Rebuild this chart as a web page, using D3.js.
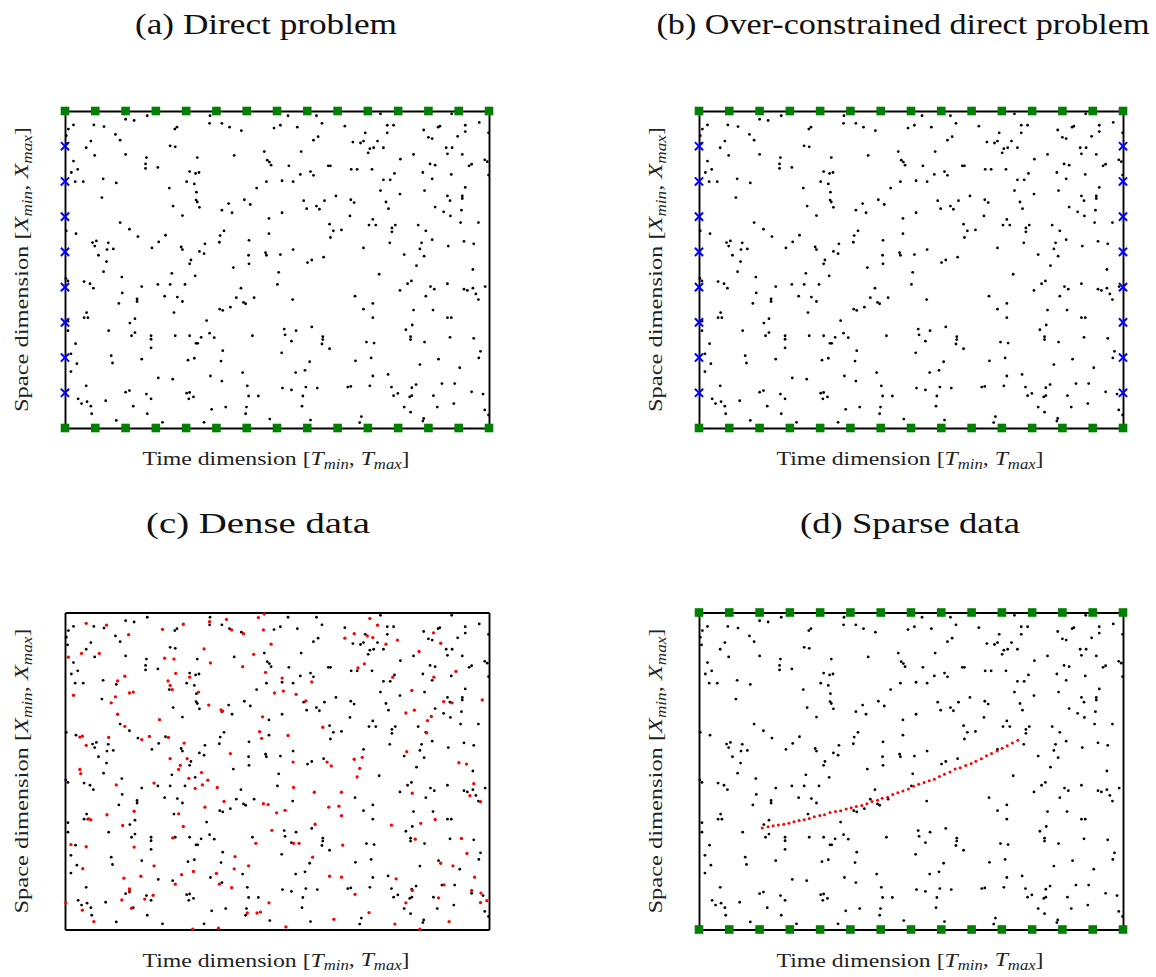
<!DOCTYPE html>
<html>
<head>
<meta charset="utf-8">
<script src="https://cdn.jsdelivr.net/npm/d3@7"></script>
<style>
  body { margin: 0; background: #fff; }
  svg { display: block; }
</style>
</head>
<body>
<svg id="fig" width="1156" height="977"></svg>
<script>
// Normalised domain: time [Tmin, Tmax] -> [0, 1], space [Xmin, Xmax] -> [0, 1]
const T_DOMAIN = [0, 1];
const X_DOMAIN = [0, 1];

// Boundary-condition points (top and bottom edges, x = Xmin / Xmax)
const boundaryTimes = [0, 0.0714, 0.1429, 0.2143, 0.2857, 0.3571, 0.4286, 0.5,
  0.5714, 0.6429, 0.7143, 0.7857, 0.8571, 0.9286, 1];
// Initial-condition points (t = Tmin) and final-condition points (t = Tmax)
const initialSpace = [0.1111, 0.2222, 0.3333, 0.4444, 0.5556, 0.6667, 0.7778, 0.8889];

// Collocation points [t, x], shared by all four layouts
const collocation = [
  [.194,.985],[.143,.974],[.163,.970],[.342,.985],[.020,.956],[.008,.943],[.068,.956],[.092,.951],[.003,.922],[.006,.898],
  [.119,.926],[.130,.908],[.061,.905],[.050,.884],[.264,.949],[.259,.943],[.341,.961],[.370,.961],[.388,.949],[.416,.938],
  [.493,.946],[.248,.890],[.260,.887],[.070,.860],[.143,.863],[.192,.853],[.190,.833],[.190,.819],[.219,.822],[.020,.842],
  [.030,.816],[.015,.806],[.312,.853],[.399,.860],[.470,.872],[.477,.845],[.482,.839],[.486,.829],[.294,.809],[.308,.803],
  [.316,.806],[.024,.777],[.043,.777],[.090,.786],[.121,.773],[.287,.777],[.305,.770],[.246,.757],[.310,.744],[.452,.757],
  [.475,.777],[.087,.727],[.309,.719],[.312,.713],[.317,.696],[.423,.720],[.437,.705],[.386,.708],[.370,.687],[.394,.679],
  [.255,.700],[.277,.670],[.481,.661],[.130,.648],[.152,.627],[.003,.622],[.026,.613],[.172,.604],[.237,.608],[.221,.587],
  [.375,.622],[.366,.607],[.364,.586],[.481,.613],[.434,.592],[.065,.585],[.074,.590],[.070,.574],[.102,.584],[.099,.563],
  [.114,.565],[.079,.545],[.205,.568],[.274,.571],[.277,.563],[.317,.557],[.328,.550],[.330,.581],[.473,.553],[.475,.545],
  [.433,.545],[.098,.525],[.297,.530],[.294,.518],[.397,.506],[.434,.518],
  [.526,.985],[.593,.985],[.744,.991],[.912,.991],[.508,.955],[.548,.949],[.606,.961],[.660,.952],[.760,.955],[.775,.955],
  [.760,.931],[.708,.931],[.846,.940],[.880,.949],[.884,.952],[.944,.955],[.944,.935],[.977,.964],[.586,.908],[.597,.919],
  [.679,.902],[.697,.899],[.704,.905],[.737,.905],[.857,.917],[.866,.913],[.926,.920],[.557,.872],[.719,.881],[.728,.884],
  [.715,.868],[.751,.884],[.899,.884],[.913,.884],[.902,.865],[.937,.863],[.822,.863],[.791,.848],[.990,.846],[.996,.840],
  [.528,.827],[.621,.827],[.626,.827],[.675,.816],[.689,.816],[.724,.816],[.861,.833],[.873,.829],[.953,.827],[.959,.832],
  [.579,.809],[.586,.797],[.555,.800],[.844,.806],[.866,.786],[.911,.800],[.777,.803],[.512,.780],[.538,.777],[.751,.783],
  [.767,.783],[.944,.759],[.744,.749],[.848,.749],[.639,.732],[.790,.738],[.902,.732],[.937,.732],[.937,.724],[.908,.717],
  [.563,.717],[.612,.717],[.674,.720],[.682,.711],[.757,.713],[.593,.700],[.600,.690],[.570,.692],[.763,.692],[.873,.697],
  [.893,.682],[.909,.669],[.935,.687],[.512,.679],[.672,.669],[.726,.658],[.624,.643],[.633,.622],[.652,.625],[.626,.601],
  [.717,.640],[.733,.640],[.771,.631],[.779,.640],[.771,.619],[.833,.640],[.851,.622],[.933,.648],[.975,.648],[.866,.594],
  [.766,.584],[.841,.584],[.837,.565],[.847,.542],[.941,.589],[.964,.581],[.904,.574],[.704,.568],[.508,.547],[.538,.563],
  [.572,.522],[.582,.530],[.610,.539],[.800,.547],[.829,.512],[.962,.500],[.999,.931],[.999,.798],
  [.002,.472],[.007,.464],[.045,.462],[.059,.455],[.067,.441],[.091,.493],[.134,.476],[.135,.426],[.127,.393],[.181,.446],
  [.170,.407],[.170,.399],[.219,.453],[.248,.453],[.283,.453],[.252,.488],[.307,.480],[.235,.416],[.265,.413],[.277,.399],
  [.415,.441],[.404,.411],[.421,.396],[.426,.392],[.446,.411],[.390,.381],[.365,.375],[.372,.371],[.051,.364],[.045,.348],
  [.054,.348],[.257,.364],[.007,.337],[.007,.307],[.165,.345],[.153,.331],[.334,.339],[.103,.307],[.165,.301],[.157,.291],
  [.203,.291],[.203,.280],[.203,.253],[.260,.291],[.294,.291],[.321,.286],[.341,.299],[.352,.285],[.442,.291],[.309,.267],
  [.313,.267],[.025,.266],[.014,.234],[.028,.203],[.014,.178],[.109,.228],[.112,.205],[.181,.217],[.290,.214],[.305,.220],
  [.372,.244],[.368,.211],[.419,.175],[.220,.158],[.254,.154],[.343,.164],[.370,.148],[.050,.133],[.430,.133],[.143,.113],
  [.152,.118],[.192,.107],[.203,.092],[.287,.110],[.294,.112],[.292,.092],[.303,.098],[.433,.101],[.456,.101],[.031,.092],
  [.039,.077],[.052,.083],[.061,.069],[.063,.045],[.096,.086],[.161,.069],[.194,.045],[.346,.059],[.379,.066],[.428,.066],
  [.426,.045],[.121,.024],[.230,.018],[.328,.018],[.483,.028],
  [.504,.491],[.501,.453],[.741,.485],[.808,.455],[.817,.464],[.790,.434],[.862,.446],[.871,.438],[.902,.455],[.941,.438],
  [.949,.434],[.962,.441],[.969,.423],[.975,.405],[.991,.446],[.537,.405],[.684,.416],[.851,.416],[.726,.393],[.704,.375],
  [.726,.348],[.822,.372],[.868,.372],[.902,.348],[.911,.348],[.517,.312],[.519,.294],[.545,.307],[.582,.319],[.534,.274],
  [.608,.288],[.608,.279],[.606,.265],[.624,.250],[.804,.310],[.819,.325],[.815,.288],[.815,.279],[.848,.271],[.908,.286],
  [.964,.283],[.711,.271],[.729,.268],[.511,.237],[.685,.212],[.722,.221],[.881,.217],[.980,.242],[.976,.221],[.577,.209],
  [.837,.200],[.931,.190],[.544,.175],[.566,.182],[.726,.164],[.762,.169],[.828,.137],[.889,.140],[.919,.140],[.513,.126],
  [.534,.120],[.568,.129],[.595,.126],[.667,.129],[.674,.131],[.719,.133],[.770,.129],[.818,.127],[.775,.102],[.785,.109],
  [.813,.098],[.818,.102],[.869,.102],[.959,.114],[.986,.107],[.561,.101],[.559,.069],[.800,.066],[.815,.050],[.878,.066],
  [.917,.077],[.990,.057],[.579,.025],[.699,.036],[.695,.017],[.846,.030],[.844,.022],[.999,.041]
];

// Observation points scattered over the whole domain (dense data) [t, x]
const denseObs = [
  [.050,.966],[.098,.960],[.230,.947],[.279,.963],[.341,.971],[.381,.978],[.456,.984],[.470,.995],[.150,.930],[.393,.945],
  [.421,.933],[.468,.945],[.008,.859],[.039,.871],[.081,.871],[.328,.885],[.235,.856],[.257,.853],[.343,.841],[.445,.868],
  [.486,.900],[.419,.829],[.473,.811],[.261,.808],[.294,.796],[.141,.799],[.124,.784],[.243,.784],[.248,.770],[.253,.757],
  [.152,.746],[.161,.749],[.119,.734],[.109,.715],[.020,.739],[.315,.749],[.494,.746],[.339,.708],[.368,.693],[.372,.689],
  [.124,.679],[.223,.662],[.466,.671],[.141,.641],[.035,.607],[.041,.610],[.050,.581],[.103,.606],[.181,.599],[.199,.609],
  [.244,.606],[.281,.588],[.459,.624],[.464,.603],[.390,.555],[.248,.539],[.288,.539],[.272,.518],[.268,.505],[.035,.505],
  [.719,.981],[.737,.960],[.682,.933],[.660,.919],[.713,.926],[.726,.921],[.784,.913],[.757,.900],[.869,.936],[.886,.903],
  [.835,.877],[.706,.838],[.691,.825],[.512,.793],[.582,.781],[.773,.796],[.870,.796],[.922,.814],[.515,.752],[.545,.742],
  [.568,.721],[.818,.754],[.893,.719],[.913,.715],[.984,.724],[.804,.683],[.824,.692],[.864,.672],[.855,.659],[.608,.638],
  [.853,.620],[.526,.612],[.806,.561],[.538,.528],[.618,.528],[.628,.516],[.682,.537],[.701,.543],[.695,.508],[.929,.526],
  [.947,.522],
  [.037,.492],[.121,.456],[.210,.462],[.292,.477],[.322,.495],[.337,.471],[.324,.456],[.307,.445],[.359,.448],[.375,.404],
  [.330,.386],[.468,.397],[.479,.394],[.163,.373],[.099,.362],[.056,.349],[.061,.346],[.268,.365],[.136,.328],[.279,.325],
  [.488,.313],[.014,.268],[.050,.261],[.163,.260],[.254,.289],[.450,.272],[.401,.230],[.210,.201],[.042,.192],[.399,.191],
  [.433,.201],[.179,.168],[.139,.162],[.275,.173],[.303,.183],[.357,.177],[.364,.143],[.260,.143],[.393,.132],[.152,.128],
  [.152,.122],[.208,.108],[.188,.096],[.134,.093],[.002,.084],[.041,.061],[.157,.067],[.430,.052],[.453,.052],[.461,.055],
  [.481,.084],[.068,.025],[.301,.001],[.362,.004],
  [.689,.481],[.539,.448],[.588,.433],[.652,.433],[.499,.368],[.519,.376],[.622,.386],[.646,.389],[.652,.359],[.590,.332],
  [.539,.272],[.552,.272],[.655,.266],[.584,.228],[.624,.168],[.652,.165],[.684,.111],[.717,.053],[.634,.032],[.521,.008],
  [.770,.329],[.839,.335],[.873,.347],[.819,.430],[.826,.285],[.964,.460],[.955,.422],[.980,.403],[.935,.287],[.948,.240],
  [.886,.209],[.915,.201],[.966,.165],[.781,.160],[.819,.123],[.894,.141],[.804,.084],[.881,.100],[.959,.123],[.981,.115],
  [.980,.085],[.995,.091],[.778,.017],[.837,.001],[.906,.025]
];

// Observations along a single trajectory (sparse data)
const sparseTime = [.149,.163,.175,.187,.200,.212,.224,.236,.248,.260,.272,.285,.296,.309,.322,.334,.347,.359,.371,.384,
  .396,.408,.421,.432,.445,.457,.469,.481,.494,.506,.518,.531,.543,.555,.567,.579,.592,.604,.616,.629,
  .642,.653,.666,.678,.690,.703,.715,.727,.739,.752];
const sparseSpace = [.320,.324,.327,.330,.332,.335,.340,.344,.346,.350,.356,.360,.362,.369,.372,.375,.380,.384,.388,.391,
  .397,.404,.408,.414,.417,.426,.431,.437,.443,.452,.458,.464,.469,.474,.483,.490,.497,.506,.510,.517,
  .524,.531,.539,.548,.555,.563,.572,.580,.588,.597];

const PW = 424, PH = 317;
const panels = [
  { key: "a", title: "(a) Direct problem", x: 65, y: 111, boundary: true, initial: true, final: false, dense: false, sparse: false,
    titleX: 266, titleY: 34, titleLen: 262 },
  { key: "b", title: "(b) Over-constrained direct problem", x: 699, y: 111, boundary: true, initial: true, final: true, dense: false, sparse: false,
    titleX: 903, titleY: 34, titleLen: 493 },
  { key: "c", title: "(c) Dense data", x: 65, y: 612.5, boundary: false, initial: false, final: false, dense: true, sparse: false,
    titleX: 258, titleY: 533, titleLen: 224 },
  { key: "d", title: "(d) Sparse data", x: 699, y: 612.5, boundary: true, initial: false, final: false, dense: false, sparse: true,
    titleX: 910, titleY: 533, titleLen: 220 }
];

const svg = d3.select("#fig");
const serif = "'Liberation Serif', 'Times New Roman', serif";

function bracketLabel(sel, word, sym) {
  sel.append("tspan").text(word + " [");
  sel.append("tspan").attr("font-style", "italic").text(sym);
  sel.append("tspan").attr("font-style", "italic").attr("font-size", "0.7em").attr("dy", "0.28em").text("min");
  sel.append("tspan").attr("dy", "-0.2em").text(", ");
  sel.append("tspan").attr("font-style", "italic").text(sym);
  sel.append("tspan").attr("font-style", "italic").attr("font-size", "0.7em").attr("dy", "0.28em").text("max");
  sel.append("tspan").attr("dy", "-0.2em").text("]");
}

panels.forEach(p => {
  const g = svg.append("g").attr("transform", `translate(${p.x},${p.y})`);
  const xs = d3.scaleLinear().domain(T_DOMAIN).range([0, PW]);
  const ys = d3.scaleLinear().domain(X_DOMAIN).range([PH, 0]);

  // Frame: four tick-less axes
  const frame = [
    [d3.axisBottom(xs), `translate(0,${PH})`],
    [d3.axisTop(xs), "translate(0,0)"],
    [d3.axisLeft(ys), "translate(0,0)"],
    [d3.axisRight(ys), `translate(${PW},0)`]
  ];
  frame.forEach(([ax, tr]) => {
    const a = g.append("g").attr("transform", tr).call(ax.tickValues([]).tickSizeOuter(0));
    a.select(".domain").attr("stroke", "#000").attr("stroke-width", 1.9);
  });

  // Collocation points
  g.append("g").selectAll("circle").data(collocation).join("circle")
    .attr("cx", d => xs(d[0])).attr("cy", d => ys(d[1])).attr("r", 1.4).attr("fill", "#000");

  if (p.dense) {
    g.append("g").selectAll("circle").data(denseObs).join("circle")
      .attr("cx", d => xs(d[0])).attr("cy", d => ys(d[1])).attr("r", 1.65).attr("fill", "#ff0000");
  }
  if (p.sparse) {
    g.append("g").selectAll("circle").data(sparseTime).join("circle")
      .attr("cx", d => xs(d)).attr("cy", (d, i) => ys(sparseSpace[i])).attr("r", 1.5).attr("fill", "#ff0000");
  }

  const crosses = [];
  if (p.initial) initialSpace.forEach(s => crosses.push([T_DOMAIN[0], s]));
  if (p.final) initialSpace.forEach(s => crosses.push([T_DOMAIN[1], s]));
  const cs = 4.1;
  g.append("g").selectAll("path").data(crosses).join("path")
    .attr("transform", d => `translate(${xs(d[0])},${ys(d[1])})`)
    .attr("d", `M${-cs},${-cs}L${cs},${cs}M${-cs},${cs}L${cs},${-cs}`)
    .attr("stroke", "#0000ff").attr("stroke-width", 2).attr("fill", "none");

  if (p.boundary) {
    const sq = [];
    boundaryTimes.forEach(t => { sq.push([t, X_DOMAIN[0]]); sq.push([t, X_DOMAIN[1]]); });
    const h = 4.3;
    g.append("g").selectAll("rect").data(sq).join("rect")
      .attr("x", d => xs(d[0]) - h).attr("y", d => ys(d[1]) - h)
      .attr("width", 2 * h).attr("height", 2 * h).attr("fill", "#008000");
  }

  // Title
  svg.append("text").attr("x", p.titleX).attr("y", p.titleY).attr("text-anchor", "middle")
    .attr("font-family", serif).attr("font-size", 30).attr("fill", "#111")
    .attr("textLength", p.titleLen).attr("lengthAdjust", "spacingAndGlyphs").text(p.title);

  // Axis labels
  const xl = svg.append("text").attr("x", p.x + PW / 2 - 1).attr("y", p.y + PH + 37)
    .attr("text-anchor", "middle").attr("font-family", serif).attr("font-size", 19.5).attr("fill", "#222")
    .attr("textLength", 267).attr("lengthAdjust", "spacingAndGlyphs");
  bracketLabel(xl, "Time dimension", "T");

  const yl = svg.append("text")
    .attr("transform", `translate(${p.x - 37},${p.y + PH / 2}) rotate(-90)`)
    .attr("text-anchor", "middle").attr("font-family", serif).attr("font-size", 19.5).attr("fill", "#222")
    .attr("textLength", 285).attr("lengthAdjust", "spacingAndGlyphs");
  bracketLabel(yl, "Space dimension", "X");
});
</script>
</body>
</html>
